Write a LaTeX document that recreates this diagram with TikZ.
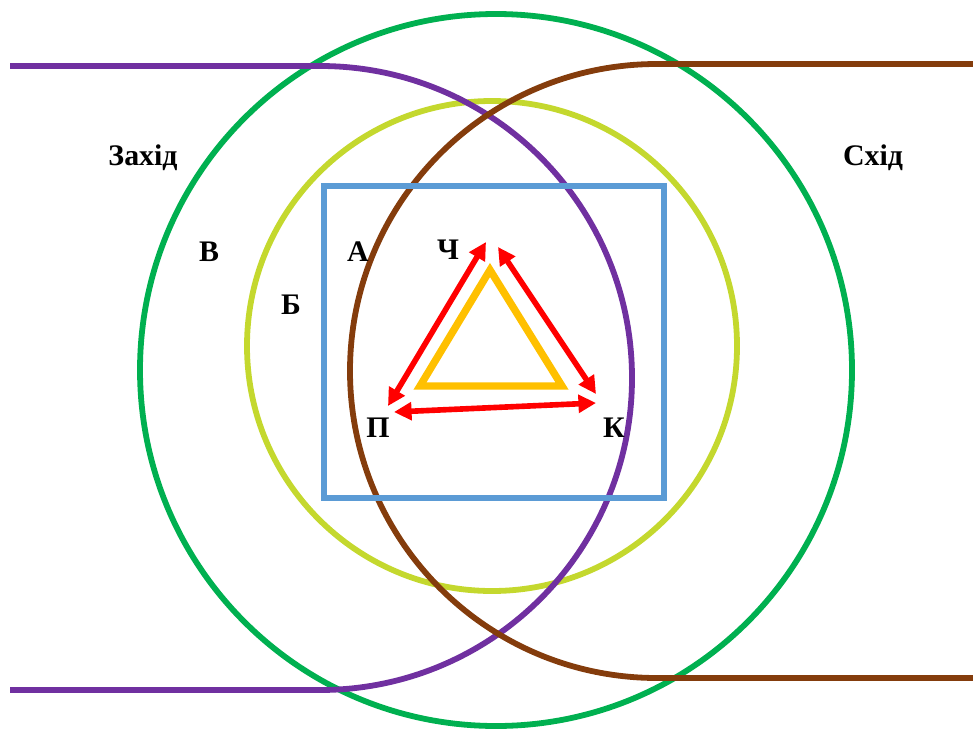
\documentclass[tikz,border=0pt]{standalone}
\usepackage{fontspec}
\setmainfont{Liberation Serif}
\usepackage{tikz}
\usetikzlibrary{arrows.meta}

\definecolor{zelen}{HTML}{00B050}
\definecolor{salat}{HTML}{C4D82E}
\definecolor{fiolet}{HTML}{7030A0}
\definecolor{korych}{HTML}{843C0C}
\definecolor{blakyt}{HTML}{5B9BD5}
\definecolor{pomar}{HTML}{FFC000}

\begin{document}
\begin{tikzpicture}[x=0.02cm,y=-0.02cm,line width=3.3pt,
  lbl/.style={font=\fontsize{17}{19}\selectfont\bfseries,inner sep=0pt},
  arr/.style={{Triangle[length=10pt,width=10pt]}-{Triangle[length=10pt,width=10pt]},red,line width=3.2pt}]
\useasboundingbox (0,0) rectangle (973,730);
\draw[zelen] (496,370) circle[radius=356];
\draw[salat] (492,346) circle[radius=245];
\draw[fiolet] (10,66) -- (320,66) arc[start angle=-90,end angle=90,radius=312] -- (10,690);
\draw[korych] (973,64) -- (657,64) arc[start angle=-90,end angle=-270,radius=307] -- (973,678);
\draw[blakyt] (324,186) rectangle (664,498);
\draw[pomar,line width=4.2pt,line join=miter] (490,270) -- (562,386) -- (420,386) -- cycle;
% arrows between the three corners
\coordinate (chL) at (486,242); \coordinate (pT) at (388,406);
\coordinate (chR) at (498,247); \coordinate (kT) at (596,394);
\coordinate (pR) at (394,412); \coordinate (kL) at (596,403);
\draw[arr] (chL) -- (pT);
\draw[arr] (chR) -- (kT);
\draw[arr] (pR) -- (kL);
% labels
\node[lbl] (zakhid) at (143,158) {Захід};
\node[lbl] (skhid) at (873,158) {Схід};
\node[lbl] (v) at (209,252) {В};
\node[lbl] (b) at (291,305) {Б};
\node[lbl] (a) at (358,252) {А};
\node[lbl] (ch) at (448,250) {Ч};
\node[lbl] (p) at (378,428) {П};
\node[lbl] (k) at (614,428) {К};
\end{tikzpicture}
\end{document}
